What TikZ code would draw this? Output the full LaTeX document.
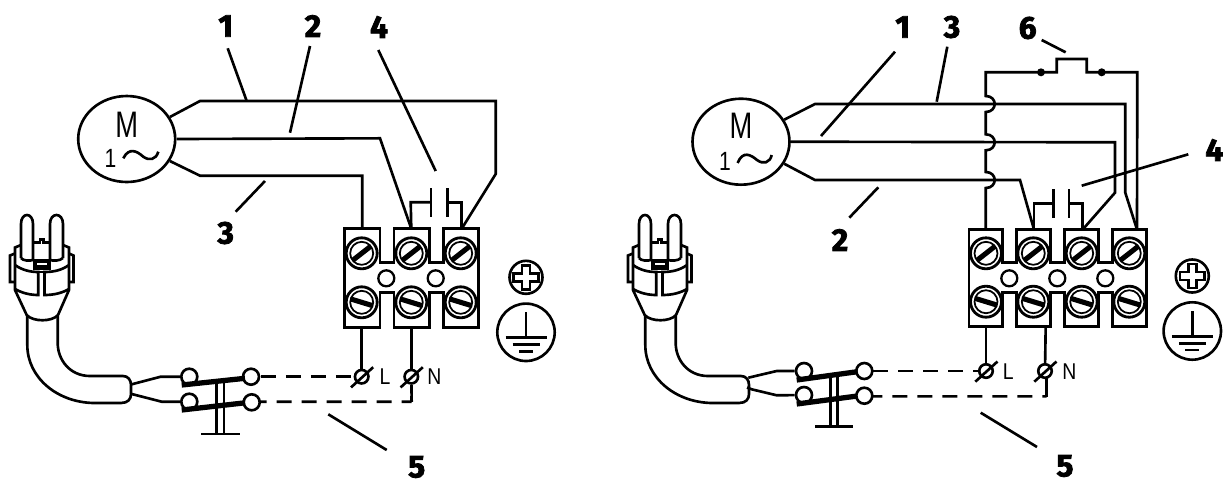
\documentclass[tikz,border=0pt]{standalone}
\usepackage{fontspec}
\setmainfont{Liberation Sans}
\newfontfamily\numfont{Fira Sans}[BoldFeatures={FakeBold=2.5}]
\usetikzlibrary{calc,shapes.geometric}

\tikzset{
  wire/.style={line width=1.5pt, line join=miter},
  dashwire/.style={wire, dash pattern=on 0.3cm off 0.2cm},
  contact/.style={line width=3pt},
  motor/.style={draw, ellipse, line width=1.5pt, inner sep=0pt, minimum width=1.94cm, minimum height=1.72cm},
  knob/.style={draw, circle, fill=white, line width=1.5pt, inner sep=0pt, minimum size=0.32cm},
  clamp/.style={draw, circle, fill=white, line width=1.5pt, inner sep=0pt, minimum size=0.27cm},
  hole/.style={draw, circle, line width=1.3pt, inner sep=0pt, minimum size=0.32cm},
  screwhead/.style={draw, circle, fill=white, line width=1.6pt, inner sep=0pt, minimum size=0.62cm},
  num/.style={font=\numfont\bfseries\fontsize{18}{18}\selectfont, inner sep=0pt},
  tag/.style={font=\fontsize{13}{13}\selectfont, inner sep=0pt, xscale=.85},
  bigm/.style={font=\fontsize{21}{21}\selectfont, inner sep=0pt, xscale=.74},
  bigone/.style={font=\fontsize{15}{15}\selectfont, inner sep=0pt, xscale=.8},
  screw/.pic={
    \draw[line width=1pt] (0,0) circle (11.5);
    \draw[line width=2.9pt] (#1:11) -- (#1+180:11);
  },
  plug/.pic={
    % prongs
    \draw[wire] (21,258) -- (21,224) .. controls (21,212) and (33,212) .. (33,224) -- (33,260);
    \draw[wire] (50,260) -- (50,224) .. controls (50,212) and (63,212) .. (63,224) -- (63,258);
    \draw[wire] (21,258) .. controls (23,261) and (30,261) .. (33,260);
    \draw[wire] (50,260) .. controls (53,261) and (60,261) .. (63,258);
    \draw[wire] (33,242.7) -- (40,242.7) -- (40,239.3) -- (43.5,239.3) -- (43.5,242.7) -- (50,242.7);
    % body
    \draw[wire] (21,245) -- (15,247.5) -- (15,290) -- (26.7,315) .. controls (33,322) and (52,322) .. (58,315) -- (69,290) -- (69,247.5) -- (63,245);
    \draw[wire] (15,253.5) -- (10,255.5) -- (10,282) -- (15,282);
    \draw[wire] (69,253.5) -- (73.5,255.5) -- (73.5,282) -- (69,282);
    \draw[wire] (15,265) .. controls (22,270) and (30,272) .. (38.3,272) -- (38.3,295) .. controls (30,295) and (22,293) .. (15,289);
    \draw[wire] (69,265) .. controls (62,270) and (54,272) .. (44.5,272) -- (44.5,295) .. controls (54,295) and (62,293) .. (69,289);
    \draw[wire] (38.3,272) -- (44.5,272);
    \draw[line width=2.4pt, fill=white] (35,261) rectangle (49,267.5);
    % cable
    \draw[wire] (27.3,316) -- (27.3,345) .. controls (27.3,378) and (58,403) .. (95,403) -- (121,403) .. controls (128,403) and (131,399) .. (131,394) -- (131,385) .. controls (131,380) and (128,376) .. (123,376) -- (90,376) .. controls (70,376) and (57.7,360) .. (57.7,343) -- (57.7,316);
  },
  earth/.pic={
    \draw[wire] (0,-55) circle (16.5);
    \draw[wire] (-4,-67) -- (4,-67) -- (4,-59) -- (12.3,-59) -- (12.3,-51) -- (4,-51) -- (4,-43) -- (-4,-43) -- (-4,-51) -- (-12.3,-51) -- (-12.3,-59) -- (-4,-59) -- cycle;
    \draw[wire] (0,0) circle (28.7);
    \draw[wire] (0,-20) -- (0,5.5);
    \draw[wire] (-20.5,5.5) -- (20.5,5.5);
    \draw[wire] (-13.5,12.5) -- (13.5,12.5);
    \draw[wire] (-7,19) -- (7,19);
  }
}

\begin{document}
\begin{tikzpicture}[x=0.02cm, y=-0.02cm]
\useasboundingbox (0,0) rectangle (1225,485);

% Left diagram: motor
\node[motor] (motorA) at (126.7,139) {};
\node[bigm] (mA) at (126.7,125) {M};
\node[bigone] (oneA) at (110.5,158) {1};
\draw[wire] (123.3,158.3) .. controls (129,147) and (137,151) .. (143,156.5) .. controls (149,161) and (156,160) .. (158.3,151.7);

% Left terminal block
\draw[wire] (344.3,228.7) -- (380,228.7) -- (380,262.7) -- (394,262.7) -- (394,228.7) -- (429.3,228.7) -- (429.3,262.7) -- (443.3,262.7) -- (443.3,228.7) -- (478.3,228.7)
  -- (478.3,327.3) -- (443.3,327.3) -- (443.3,292.7) -- (429.3,292.7) -- (429.3,327.3) -- (394,327.3) -- (394,292.7) -- (380,292.7) -- (380,327.3) -- (344.3,327.3) -- cycle;
\foreach \name/\x in {a/361.7, b/411.3, c/460.7} {
  \node[screwhead] (up\name) at (\x,253.3) {};
  \pic at (up\name) {screw=-38};
  \node[screwhead] (lo\name) at (\x,302.3) {};
  \pic at (lo\name) {screw=17};
}
\foreach \name/\x in {a/386.3, b/435.7} \node[hole] (hole\name) at (\x,278.3) {};
\foreach \name/\x in {a/361.7, b/411.3, c/461.7} \coordinate (top\name) at (\x,228.7);

% Left motor wires
\draw[wire] (motorA.27) -- (200,101) -- (495.7,101) -- (495.7,174) -- (topc);
\draw[wire] (motorA.east) -- (380,138.3) -- (topb);
\draw[wire] (motorA.-27) -- (200,175.7) -- (362.3,175.7) -- (362.3,228.7);

% Left capacitor
\draw[wire] (topb) -- (410.7,202.3) -- (431,202.3);
\draw[wire] (431,188) -- (431,217);
\draw[wire] (447.7,188) -- (447.7,217);
\draw[wire] (447.7,202.3) -- (461.7,202.3) -- (topc);

% Left plug and switch
\pic at (0,0) {plug};
\foreach \name/\x/\y in {swa/189.3/376.7, swb/189.3/401.7, swc/251/376.7, swd/251.7/402.3} \node[knob] (\name) at (\x,\y) {};
\coordinate (capa) at (131.7,384.3);
\coordinate (capb) at (131.7,394);
\draw[wire] (capa) -- (160.7,376.7) -- (swa);
\draw[wire] (capb) -- (161.7,401.7) -- (swb);
\draw[wire] (216.7,383) -- (216.7,434);
\draw[wire] (224,383) -- (224,434);
\draw[wire] (201,434) -- (240,434);
\draw[contact] (181.7,385) -- (245,378.3);
\draw[contact] (181.7,410) -- (245,402.8);

% Left mains leads
\foreach \name/\x in {L/361.7, N/411.3} \node[clamp] (clamp\name) at (\x,376.7) {};
\draw[wire] (361.7,327.3) -- (clampL);
\draw[wire] (411.3,327.3) -- (clampN);
\draw[wire] (clampN) -- (411.7,401.7);
\foreach \name in {L,N} \draw[wire] ($(clamp\name)+(-10.7,10.7)$) -- ($(clamp\name)+(11.5,-9.5)$);
\node[tag] (tagL) at (385,376.7) {L};
\node[tag] (tagN) at (434.3,376.7) {N};
\draw[dashwire] (swc) ++(10,0) -- (clampL);
\draw[dashwire, dash phase=0.16cm] (swd) ++(8,-0.6) -- (411.7,401.7);
\draw[wire] (411.7,396) -- (411.7,402.4);

% Left earth
\pic at (526,332.3) {earth};

% Left numbers
\foreach \name/\txt/\x/\y in {na1/1/225.7/26, na2/2/313/26, na4/4/379/27, na3/3/225.7/233, na5/5/416.7/467}
  \node[num] (\name) at (\x,\y) {\txt};
\draw[wire] (227.7,48.3) -- (246.7,101);
\draw[wire] (310,46) -- (290,132.7);
\draw[wire] (378.3,50) -- (435.7,171);
\draw[wire] (265,181) -- (235.7,211.7);
\draw[wire] (328.3,414.3) -- (386.7,450);

% Right diagram: motor
\node[motor] (motorB) at (741,141.7) {};
\node[bigm] (mB) at (741,125.5) {M};
\node[bigone] (oneB) at (725,161.5) {1};
\draw[wire] (737.6,163) .. controls (743,150) and (751,155) .. (757,160) .. controls (763,164.5) and (770,163) .. (771.7,155);

% Right terminal block
\draw[wire] (969,229.5) -- (1002.7,229.5) -- (1002.7,262.7) -- (1016.7,262.7) -- (1016.7,229.5) -- (1050.7,229.5) -- (1050.7,262.7) -- (1064.7,262.7) -- (1064.7,229.5) -- (1098.3,229.5) -- (1098.3,262.7) -- (1112.3,262.7) -- (1112.3,229.5) -- (1146.7,229.5)
  -- (1146.7,326.3) -- (1112.3,326.3) -- (1112.3,292.7) -- (1098.3,292.7) -- (1098.3,326.3) -- (1064.7,326.3) -- (1064.7,292.7) -- (1050.7,292.7) -- (1050.7,326.3) -- (1016.7,326.3) -- (1016.7,292.7) -- (1002.7,292.7) -- (1002.7,326.3) -- (969,326.3) -- cycle;
\foreach \name/\x in {a/986, b/1033.3, c/1081.7, d/1129.3} {
  \node[screwhead] (upr\name) at (\x,253.3) {};
  \pic at (upr\name) {screw=-38};
  \node[screwhead] (lor\name) at (\x,301.7) {};
  \pic at (lor\name) {screw=17};
}
\foreach \name/\x in {a/1009.3, b/1057.3, c/1105.3} \node[hole] (holer\name) at (\x,278.3) {};
\foreach \name/\x in {a/985.7, b/1034, c/1082.7, d/1137} \coordinate (topr\name) at (\x,229.5);

% Right motor wires
\draw[wire] (motorB.27) -- (815,104) -- (1125.3,104) -- (1125.3,192.7) -- (toprd);
\draw[wire] (motorB.east) -- (1115,142.3) -- (1115,192.7) -- (toprc);
\draw[wire] (motorB.-27) -- (815,180) -- (1020,180) -- (toprb);

% Right thermal protector with wire hops
\draw[wire] (topra) -- (985.7,188)
  .. controls (997.7,188) and (997.7,172) .. (985.7,172) -- (985.7,150.3)
  .. controls (997.7,150.3) and (997.7,134.3) .. (985.7,134.3) -- (985.7,112)
  .. controls (997.7,112) and (997.7,96) .. (985.7,96) -- (985.7,72.3) -- (1056.7,72.3) -- (1056.7,59) -- (1086.7,59) -- (1086.7,72.3) -- (1137.3,72.3) -- (toprd);
\foreach \name/\x in {pa/1041, pb/1101.7} \fill (\x,72.3) circle (4) coordinate (\name);

% Right capacitor
\draw[wire] (toprb) -- (1034,203.3) -- (1053.3,203.3);
\draw[wire] (1053.3,189.3) -- (1053.3,218.3);
\draw[wire] (1069,189.3) -- (1069,218.3);
\draw[wire] (1069,203.3) -- (1082.7,203.3) -- (toprc);

% Right plug and switch
\pic at (618,0) {plug};
\foreach \name/\x/\y in {swe/804/371, swf/804/395, swg/864.3/371, swh/864.3/395.7} \node[knob] (\name) at (\x,\y) {};
\coordinate (cape) at (748.3,377.7);
\coordinate (capf) at (747,387.5);
\draw[wire] (cape) -- (776.7,371) -- (swe);
\draw[wire] (capf) -- (751.7,389.3) -- (776.7,395.3) -- (swf);
\draw[wire] (830.7,377) -- (830.7,426.7);
\draw[wire] (837.7,377) -- (837.7,426.7);
\draw[wire] (815,426.7) -- (853.3,426.7);
\draw[contact] (796.7,380) -- (857.3,371.7);
\draw[contact] (796.7,404) -- (857.3,396);

% Right mains leads
\foreach \name/\x in {R/986, S/1045} \node[clamp] (clamp\name) at (\x,371) {};
\draw[wire] (986,326.3) -- (clampR);
\draw[wire] (1045.7,326.3) -- (clampS);
\foreach \name in {R,S} \draw[wire] ($(clamp\name)+(-10.7,10.7)$) -- ($(clamp\name)+(11.5,-9.5)$);
\node[tag] (tagR) at (1008.3,371.5) {L};
\node[tag] (tagS) at (1069.3,371.5) {N};
\draw[dashwire] (swg) ++(9,0) -- (clampR);
\draw[dashwire, dash phase=0.1cm] (swh) ++(8,0.7) -- (1046.7,396.4);
\draw[wire] (1046.7,397) -- (1046.7,378);

% Right earth
\pic at (1192.3,331) {earth};

% Right numbers
\foreach \name/\txt/\x/\y in {nb1/1/902.7/27, nb3/3/952/27, nb6/6/1027.7/28, nb4/4/1214.3/150, nb2/2/840/240, nb5/5/1065/466}
  \node[num] (\name) at (\x,\y) {\txt};
\draw[wire] (895,51.7) -- (821,136);
\draw[wire] (947.3,46.7) -- (936.7,101.7);
\draw[wire] (1041.7,40) -- (1065.7,52.3);
\draw[wire] (1188.3,154.3) -- (1081.7,185.7);
\draw[wire] (878.3,187.3) -- (849.3,217.7);
\draw[wire] (980.7,412.7) -- (1037,447);

\end{tikzpicture}
\end{document}
